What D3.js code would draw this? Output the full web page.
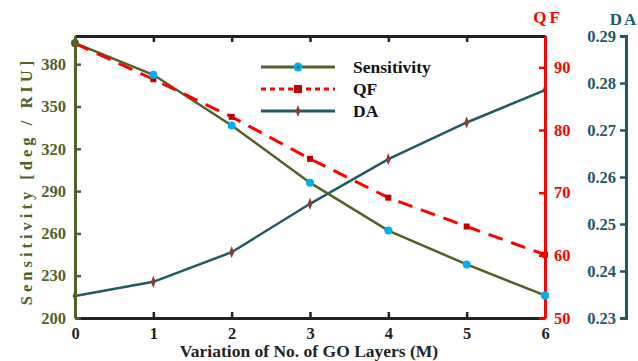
<!DOCTYPE html>
<html>
<head>
<meta charset="utf-8">
<script src="https://cdn.jsdelivr.net/npm/d3@7"></script>
<style>
  body { margin: 0; background: #fff; }
  text { font-family: "Liberation Serif", "Times New Roman", serif; font-weight: bold; }
</style>
</head>
<body>
<svg width="638" height="361"></svg>
<script>
// data
var layers = [0, 1, 2, 3, 4, 5, 6];
var sensitivity = [395, 372.5, 336.5, 296, 262, 238, 216];
var qf = [93.8, 88.1, 82.1, 75.4, 69.2, 64.6, 60.1];
var da = [0.2347, 0.2377, 0.2440, 0.2543, 0.2638, 0.2716, 0.2785];

var sensTicks = [200, 230, 260, 290, 320, 350, 380];
var qfTicks = [50, 60, 70, 80, 90];
var daTicks = [0.23, 0.24, 0.25, 0.26, 0.27, 0.28, 0.29];

var olive = "#4f6228", red = "#ff0000", teal = "#215967";

var svg = d3.select("svg");
var pLeft = 75, pRight = 545, pTop = 36, pBottom = 318;

var x = d3.scaleLinear().domain([0, 6]).range([pLeft, pRight]);
var ySens = d3.scaleLinear().domain([200, 400]).range([pBottom, pTop]);
var yQF = d3.scaleLinear().domain([50, 95]).range([pBottom, pTop]);
var yDA = d3.scaleLinear().domain([0.23, 0.29]).range([pBottom, pTop]);

function styleAxis(g, color) {
  g.select(".domain").attr("stroke", color).attr("stroke-width", 3);
  g.selectAll(".tick line").attr("stroke", color).attr("stroke-width", 2.5);
  g.selectAll(".tick text").attr("fill", color).attr("font-size", 16.5)
    .attr("font-family", "Liberation Serif, serif").attr("font-weight", "bold");
}

// bottom and top frame
var xb = svg.append("g").attr("transform", "translate(0," + pBottom + ")")
  .call(d3.axisBottom(x).tickValues(layers).tickFormat(d3.format("d")).tickSizeInner(-6).tickSizeOuter(0).tickPadding(9));
styleAxis(xb, "#222");

var xt = svg.append("g").attr("transform", "translate(0," + pTop + ")")
  .call(d3.axisTop(x).tickValues(layers).tickFormat("").tickSizeInner(-6).tickSizeOuter(0));
styleAxis(xt, "#222");

// series lines
var lineS = d3.line().x((d, i) => x(layers[i])).y(d => ySens(d));
var lineQ = d3.line().x((d, i) => x(layers[i])).y(d => yQF(d));
var lineD = d3.line().x((d, i) => x(layers[i])).y(d => yDA(d));

svg.append("path").datum(da).attr("d", lineD)
  .attr("fill", "none").attr("stroke", teal).attr("stroke-width", 2.5);
svg.append("path").datum(sensitivity).attr("d", lineS)
  .attr("fill", "none").attr("stroke", olive).attr("stroke-width", 2.5);
svg.append("path").datum(qf).attr("d", lineQ)
  .attr("fill", "none").attr("stroke", red).attr("stroke-width", 3)
  .attr("stroke-dasharray", "15,9");

// markers
svg.append("g").selectAll("path").data(da).enter().append("path")
  .attr("d", d3.symbol().type(d3.symbolDiamond).size(30))
  .attr("transform", (d, i) => "translate(" + x(layers[i]) + "," + yDA(d) + ") scale(0.8,1.2)")
  .attr("fill", "#8e3b2e");
svg.append("g").selectAll("rect").data(qf).enter().append("rect")
  .attr("x", (d, i) => x(layers[i]) - 3).attr("y", d => yQF(d) - 3)
  .attr("width", 6).attr("height", 6).attr("fill", "#c00000");
svg.append("g").selectAll("circle").data(sensitivity).enter().append("circle")
  .attr("cx", (d, i) => x(layers[i])).attr("cy", d => ySens(d)).attr("r", 4)
  .attr("fill", (d, i) => i == 0 ? olive : "#00b0f0");

// left axis
var ya = svg.append("g").attr("transform", "translate(" + pLeft + ",0)")
  .call(d3.axisLeft(ySens).tickValues(sensTicks).tickSizeInner(-6).tickSizeOuter(0).tickPadding(9));
styleAxis(ya, olive);

// QF axis
var qa = svg.append("g").attr("transform", "translate(" + pRight + ",0)")
  .call(d3.axisRight(yQF).tickValues(qfTicks).tickSizeInner(-6).tickSizeOuter(0).tickPadding(9));
styleAxis(qa, red);

// DA axis
var daAxis = svg.append("g").attr("transform", "translate(626,0)")
  .call(d3.axisLeft(yDA).tickValues(daTicks).tickFormat(d3.format(".2f")).tickSizeInner(6).tickSizeOuter(6).tickPadding(4));
styleAxis(daAxis, teal);

// redraw last sensitivity marker over the QF axis
svg.append("circle").attr("cx", x(6)).attr("cy", ySens(sensitivity[6])).attr("r", 4).attr("fill", "#00b0f0");

// titles
svg.append("text").attr("transform", "translate(32,181) rotate(-90)")
  .attr("text-anchor", "middle").attr("font-size", 16.5).attr("fill", olive)
  .attr("letter-spacing", 4).text("Sensitivity [deg / RIU]");
svg.append("text").attr("x", 548).attr("y", 23).attr("text-anchor", "middle")
  .attr("font-size", 17).attr("fill", red).attr("letter-spacing", 3).text("QF");
svg.append("text").attr("x", 624).attr("y", 25).attr("text-anchor", "middle")
  .attr("font-size", 17).attr("fill", teal).attr("letter-spacing", 2).text("DA");
svg.append("text").attr("x", 309).attr("y", 357).attr("text-anchor", "middle")
  .attr("font-size", 17.5).attr("fill", "#222").text("Variation of No. of GO Layers (M)");

// legend
var legend = [
  { name: "Sensitivity", color: olive, dash: null, mark: "circle" },
  { name: "QF", color: red, dash: "5,4", mark: "square" },
  { name: "DA", color: teal, dash: null, mark: "diamond" }
];
var lg = svg.append("g").selectAll("g").data(legend).enter().append("g")
  .attr("transform", (d, i) => "translate(0," + (67 + i * 22) + ")");
lg.append("line").attr("x1", 261).attr("x2", 335)
  .attr("stroke", d => d.color).attr("stroke-width", 3)
  .attr("stroke-dasharray", d => d.dash);
lg.each(function(d) {
  var g = d3.select(this);
  if (d.mark == "circle") {
    g.append("circle").attr("cx", 298).attr("cy", 0).attr("r", 4.5).attr("fill", "#00b0f0");
    g.append("circle").attr("cx", 298).attr("cy", 0).attr("r", 1.5).attr("fill", olive);
  } else if (d.mark == "square") {
    g.append("rect").attr("x", 294).attr("y", -4).attr("width", 8).attr("height", 8).attr("fill", "#c00000");
  } else {
    g.append("path").attr("d", d3.symbol().type(d3.symbolDiamond).size(30))
      .attr("transform", "translate(298,0) scale(0.8,1.2)").attr("fill", "#8e3b2e");
  }
});
lg.append("text").attr("x", 353).attr("y", 6).attr("font-size", 17.5).attr("fill", "#111")
  .text(d => d.name);
</script>
</body>
</html>
